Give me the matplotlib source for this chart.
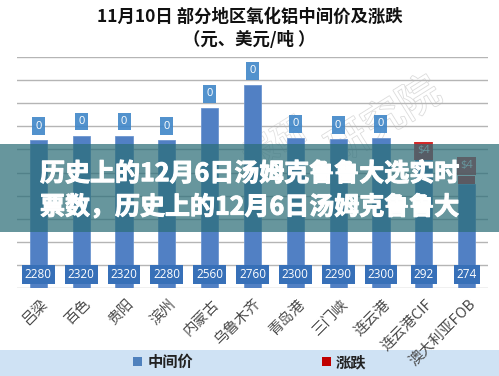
import matplotlib
matplotlib.use("Agg")
import matplotlib.pyplot as plt
import matplotlib.patheffects as pe
from matplotlib.patches import Rectangle

plt.rcParams['font.family'] = ['Noto Sans CJK SC', 'DejaVu Sans']

# === 数据 ===
categories = ['吕梁', '百色', '贵阳', '滨州', '内蒙古', '乌鲁木齐', '青岛港', '三门峡', '连云港', '连云港CIF', '澳大利亚FOB']
mid_price = [2280, 2320, 2320, 2280, 2560, 2760, 2300, 2290, 2300, 292, 274]
change = [0, 0, 0, 0, 0, 0, 0, 0, 0, 4, 4]
is_usd = [False] * 9 + [True, True]
change_labels = ['0'] * 9 + ['$4', '$4']

title_line1 = '11月10日 部分地区氧化铝中间价及涨跌'
title_line2 = '（元、美元/吨 ）'
overlay_lines = ['历史上的12月6日汤姆克鲁鲁大选实时', '票数，历史上的12月6日汤姆克鲁鲁大']

# === 颜色 ===
bar_blue = '#5180c4'
lab_blue = '#3f86c8'
val_blue = '#3770b8'
red = '#d42a2a'

fig = plt.figure(figsize=(4.99, 3.76), dpi=100)
fig.patch.set_facecolor('white')

ax = fig.add_axes([17 / 499, 1 - 288 / 376, 471 / 499, 231 / 376])
ax2 = ax.twinx()

ax.set_xlim(-0.5, len(categories) - 0.5)
ax.set_ylim(1000, 3000)
ax.set_yticks(range(1000, 3001, 200))
ax2.set_ylim(220, 340)
ax.grid(axis='y', color='#b5b5b5', linewidth=1)
ax.set_axisbelow(True)
for a in (ax, ax2):
    for s in a.spines.values():
        s.set_visible(False)
    a.tick_params(left=False, right=False, labelleft=False, labelright=False, bottom=False)
ax.set_xticks([])

# 水印（空心字）
ax.text(0.78, 0.72, '研究院', transform=ax.transAxes, fontsize=30, color='white',
        rotation=32, ha='center', va='center', zorder=0.5,
        path_effects=[pe.withStroke(linewidth=1.2, foreground='#dcdcdc')])
ax.text(0.55, 0.62, '报研', transform=ax.transAxes, fontsize=24, color='white',
        rotation=32, ha='center', va='center', zorder=0.5,
        path_effects=[pe.withStroke(linewidth=1.2, foreground='#e2e2e2')])

# === 柱子 ===
w = 0.4
for i, (v, c, usd) in enumerate(zip(mid_price, change, is_usd)):
    a = ax2 if usd else ax
    base = a.get_ylim()[0]
    a.bar(i, v - base, bottom=base, width=w, color=bar_blue, edgecolor='#6d96d0', linewidth=0.6, zorder=2)
    if c:
        a.bar(i, c, bottom=v, width=w, color=red, linewidth=0, zorder=2)
    # 中间价标签（底部）
    a.annotate(str(v), (i, base), xytext=(0, 9.5), textcoords='offset points',
               ha='center', va='center', fontsize=8.5, color='white', family=['Open Sans', 'DejaVu Sans'],
               bbox=dict(boxstyle='square,pad=0.25', fc=val_blue, ec='none'), zorder=4)

# 涨跌标签
chg_dy = [10] * 9 + [-6.5, 7.5]
for i, (v, c, usd, lab, dy) in enumerate(zip(mid_price, change, is_usd, change_labels, chg_dy)):
    a = ax2 if usd else ax
    fc = red if usd else lab_blue
    a.annotate(lab, (i, v + c), xytext=(0, dy), textcoords='offset points',
               ha='center', va='center', fontsize=8, color='white', family=['Open Sans', 'DejaVu Sans'],
               bbox=dict(boxstyle='square,pad=0.3', fc=fc, ec='none', alpha=0.9), zorder=4)

# 分类标签（45度）
for i, cat in enumerate(categories):
    x_fig = (17 + (i + 0.5) * 471 / 11 + 2) / 499
    fig.text(x_fig, 1 - 297 / 376, cat, rotation=45, ha='right', va='top', rotation_mode='anchor',
             fontsize=10.5, color='#4a4a4a', zorder=6, family=['Noto Sans CJK SC', 'DejaVu Sans'])

# === 标题 ===
fig.text(0.5, 1 - 17 / 376, title_line1, ha='center', va='center', fontsize=12.5, fontweight='bold', color='#111111')
fig.text(0.5, 1 - 40 / 376, title_line2, ha='center', va='center', fontsize=12.5, fontweight='bold', color='#111111')

# === 图例 ===
fig.patches.append(Rectangle((0, 0), 1, 26 / 376, transform=fig.transFigure, fc='#cfe2f4', ec='none', zorder=1))
fig.patches.append(Rectangle((133 / 499, 1 - 366 / 376), 9 / 499, 9 / 376, transform=fig.transFigure,
                             fc='#4f81bd', ec='none', zorder=2))
fig.text(148 / 499, 1 - 362 / 376, '中间价', ha='left', va='center', fontsize=11, fontweight='bold', color='#222222')
fig.patches.append(Rectangle((322 / 499, 1 - 366 / 376), 9 / 499, 9 / 376, transform=fig.transFigure,
                             fc='#c00000', ec='none', zorder=2))
fig.text(336 / 499, 1 - 362 / 376, '涨跌', ha='left', va='center', fontsize=11, fontweight='bold', color='#222222')

# === 遮罩和大字 ===
fig.patches.append(Rectangle((0, 1 - 232 / 376), 1, 88 / 376, transform=fig.transFigure,
                             fc='#2c6e78', ec='none', alpha=0.72, zorder=10))
thick = [pe.withStroke(linewidth=0.8, foreground='white')]
fig.text(40 / 499, 1 - 174 / 376, overlay_lines[0], ha='left', va='center', fontsize=18,
         fontweight='bold', color='white', zorder=11, path_effects=thick)
fig.text(40 / 499, 1 - 207 / 376, overlay_lines[1], ha='left', va='center', fontsize=18,
         fontweight='bold', color='white', zorder=11, path_effects=thick)

plt.savefig('out.png', dpi=100)
plt.close()
